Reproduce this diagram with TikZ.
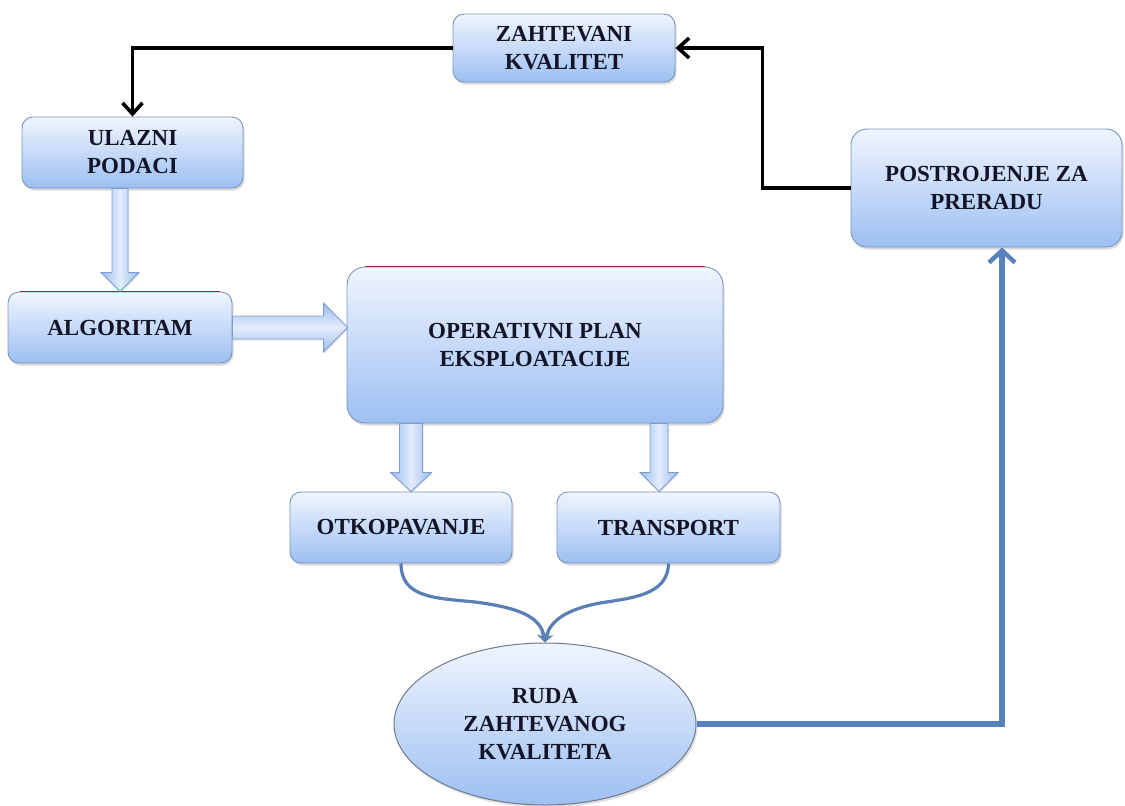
\documentclass[tikz,border=0pt]{standalone}
\usepackage{fontspec}
\setmainfont{Liberation Serif}
\usetikzlibrary{shapes.geometric,shadows,arrows.meta,calc}

\definecolor{boxtop}{HTML}{F0F5FE}
\definecolor{boxbot}{HTML}{9DBFF2}
\definecolor{boxedge}{HTML}{7895C2}
\definecolor{inkdark}{HTML}{141428}
\definecolor{flowblue}{HTML}{5882BD}
\definecolor{arrowedge}{HTML}{7E9ED0}
\definecolor{arrowmid}{HTML}{E2ECFC}
\definecolor{arrowside}{HTML}{9DBDEE}
\definecolor{topline}{HTML}{8A2B3C}
\definecolor{ovaledge}{HTML}{6E7A8C}
\definecolor{bracecol}{HTML}{5A7FB5}

\tikzset{
  stage/.style={rectangle, rounded corners=11pt, draw=boxedge, line width=0.9pt,
    top color=boxtop, bottom color=boxbot, text=inkdark, inner sep=0pt,
    font=\bfseries\fontsize{23}{28}\selectfont, align=center,
    drop shadow={opacity=0.3, shadow xshift=1.5pt, shadow yshift=-2.5pt}},
  oval/.style={ellipse, draw=ovaledge, line width=1pt, inner sep=0pt,
    top color=boxtop, bottom color=boxbot, text=inkdark,
    font=\bfseries\fontsize{23}{28}\selectfont, align=center,
    drop shadow={opacity=0.25, shadow xshift=1.5pt, shadow yshift=-2.5pt}},
  vfat/.style={draw=arrowedge, line width=0.9pt, left color=arrowside,
    right color=arrowside, middle color=arrowmid,
    drop shadow={opacity=0.2, shadow xshift=1pt, shadow yshift=-1.5pt}},
  hfat/.style={draw=arrowedge, line width=0.9pt, top color=arrowside,
    bottom color=arrowside, middle color=arrowmid,
    drop shadow={opacity=0.2, shadow xshift=1pt, shadow yshift=-1.5pt}},
  feedback/.style={draw=black, line width=3.6pt, line join=miter,
    -{Straight Barb[length=11pt,width=20pt,line width=3.6pt]}},
  supply/.style={draw=flowblue, line width=5.5pt, line join=miter,
    -{Straight Barb[length=12pt,width=26pt,line width=4.5pt]}},
  brace/.style={draw=bracecol, line width=3.2pt,
    -{Stealth[length=9pt,width=13pt]}},
  redtop/.style={draw=topline, line width=1.2pt}
}

\begin{document}
\begin{tikzpicture}[x=1pt,y=-1pt]
\useasboundingbox (0,0) rectangle (1125,806);

% process stages
\node[stage, minimum width=222pt, minimum height=68pt] (zk) at (564,48) {ZAHTEVANI\\KVALITET};
\node[stage, minimum width=221pt, minimum height=71pt] (ul) at (132.5,152.5) {ULAZNI\\PODACI};
\node[stage, minimum width=224pt, minimum height=71pt] (alg) at (120,327.5) {ALGORITAM};
\node[stage, rounded corners=18pt, minimum width=376pt, minimum height=156pt] (op) at (535,345) {OPERATIVNI PLAN\\EKSPLOATACIJE};
\node[stage, minimum width=222pt, minimum height=71pt] (otk) at (401,527.5) {OTKOPAVANJE};
\node[stage, minimum width=223pt, minimum height=71pt] (tr) at (668.5,527.5) {TRANSPORT};
\node[stage, rounded corners=16pt, minimum width=271pt, minimum height=118pt] (post) at (986.5,188) {POSTROJENJE ZA\\PRERADU};
\node[oval, minimum width=302pt, minimum height=162pt] (ruda) at (545,724) {RUDA\\ZAHTEVANOG\\KVALITETA};

% dark edge along the top of two boxes
\draw[redtop] ([xshift=12pt]alg.north west) -- ([xshift=-12pt]alg.north east);
\draw[redtop] ([xshift=18pt]op.north west) -- ([xshift=-18pt]op.north east);

% broad block arrows
\path[vfat] let \p1=(ul.south), \p2=(alg.north) in
  (\x2-8pt,\y1) -- (\x2+8pt,\y1) -- (\x2+8pt,\y2+19pt) -- (\x2+19pt,\y2+19pt)
  -- (\x2,\y2) -- (\x2-19pt,\y2+19pt) -- (\x2-8pt,\y2+19pt) -- cycle;
\path[hfat] let \p1=(alg.east), \p2=(op.west) in
  (\x1,\y1+11.5pt) -- (\x2-23pt,\y1+11.5pt) -- (\x2-23pt,\y1+24.5pt)
  -- (\x2+1pt,\y1) -- (\x2-23pt,\y1-24.5pt) -- (\x2-23pt,\y1-11.5pt)
  -- (\x1,\y1-11.5pt) -- cycle;
\path[vfat] let \p1=(op.south), \p2=(otk.north) in
  (\x2-1.5pt,\y1) -- (\x2+21.5pt,\y1) -- (\x2+21.5pt,\y2+19pt) -- (\x2+30.5pt,\y2+19pt)
  -- (\x2+10pt,\y2) -- (\x2-10.5pt,\y2+19pt) -- (\x2-1.5pt,\y2+19pt) -- cycle;
\path[vfat] let \p1=(op.south), \p2=(tr.north) in
  (\x2-18.5pt,\y1) -- (\x2-0.5pt,\y1) -- (\x2-0.5pt,\y2+19pt) -- (\x2+9.5pt,\y2+19pt)
  -- (\x2-9.5pt,\y2) -- (\x2-28.5pt,\y2+19pt) -- (\x2-18.5pt,\y2+19pt) -- cycle;

% merging brace into the ore node
\draw[brace] (otk.south) .. controls (401,598) and (435,598) .. (475,602)
  .. controls (522,608) and (541,618) .. (ruda.north);
\draw[brace] (tr.south) .. controls (668,595) and (632,598) .. (600,603)
  .. controls (568,609) and (550,620) .. (ruda.north);

% ore to the processing plant
\draw[supply] (ruda.east) -| ([xshift=15.5pt]post.south);

% feedback of the required quality
\draw[feedback] (post.west) -- ++(-88pt,0) |- (zk.east);
\draw[feedback] (zk.west) -| (ul.north);
\end{tikzpicture}
\end{document}
